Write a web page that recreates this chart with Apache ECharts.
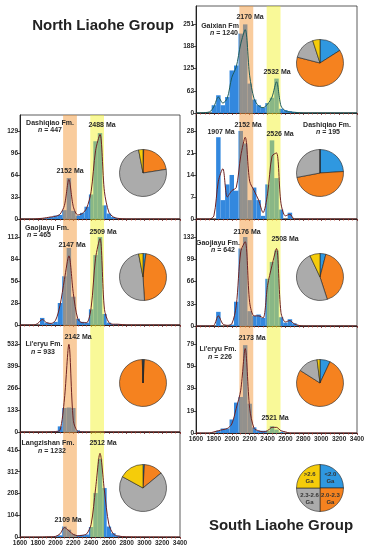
<!DOCTYPE html>
<html><head><meta charset="utf-8">
<script src="https://cdn.jsdelivr.net/npm/echarts@6/dist/echarts.min.js"></script>
<style>html,body{margin:0;padding:0;background:#fff;}#c{width:371px;height:550px;}</style>
</head><body><div id="c"></div>
<script>
// ---------- DATA ----------
const binCenters = [1800,1850,1900,1950,2000,2050,2100,2150,2200,2250,2300,2350,2400,2450,2500,2550,2600,2650,2700,2750];
const binWidth = 50;
const kdeAges = [1600,1750,1800,1850,1900,1950,2000,2050,2100,2150,2200,2250,2300,2350,2400,2450,2500,2550,2600,2650,2700,2800,3400];
const xTickLabels = [1600,1800,2000,2200,2400,2600,2800,3000,3200,3400];
const pieNames = ['<2.0 Ga','2.0-2.3 Ga','2.3-2.6 Ga','>2.6 Ga'];
const legendLabels = ['<2.0\nGa','2.0-2.3\nGa','2.3-2.6\nGa','>2.6\nGa'];
const orangeBand = [2085, 2240];
const yellowBand = [2390, 2545];

const formations = ['Dashiqiao Fm.','Gaojiayu Fm.',"Li'eryu Fm.",'Langzishan Fm.','Gaixian Fm','Dashiqiao Fm.','Gaojiayu Fm.',"Li'eryu Fm."];
const sampleN = [447, 465, 933, 1232, 1240, 195, 642, 226];

// North Liaohe Group
const countsL1 = [0,0,1,3,5,6,13,60,12,5,9,18,36,114,126,20,8,3,1,0];
const countsL2 = [0,9,3,2,4,28,62,98,36,8,4,3,20,89,112,14,3,1,1,0];
const countsL3 = [0,0,0,0,6,34,145,148,145,10,3,0,0,0,0,0,0,0,0,0];
const countsL4 = [0,0,0,0,3,8,50,35,15,8,10,12,48,210,373,234,50,18,6,2];
// South Liaohe Group
const countsR1 = [22,50,22,45,120,134,224,250,83,38,22,15,28,43,97,12,8,5,3,0];
const countsR2 = [0,26,6,11,14,9,28,24,6,10,6,1,11,25,13,3,0,2,0,0];
const countsR3 = [0,21,0,0,2,36,115,132,22,15,17,12,70,95,112,13,5,10,4,0];
const countsR4 = [0,2,4,4,12,27,32,78,26,5,2,2,2,6,3,1,0,0,0,0];

const kdeL1 = [0,0,0.5,1,2,3,4,7,20,58,18,6,8,16,40,100,124,40,10,3,1,0,0];
const kdeL2 = [0,0,2,7,3,2,6,25,58,88,40,8,3,3,22,85,110,20,3,1,1,0,0];
const kdeL3 = [0,0,0,0,0,1,3,10,200,530,70,4,1,0,0,0,0,0,0,0,0,0,0];
const kdeL4 = [0,0,0,0,1,1,3,15,45,30,12,6,8,15,60,230,400,220,60,15,5,1,0];
const kdeR1 = [0,3,18,45,28,42,100,130,195,235,105,40,20,15,25,45,88,20,6,3,2,0,0];
const kdeR2 = [0,0,1,12,16,7,9,10,20,26,12,9,6,2,8,20,21,5,1,1.5,0,0,0];
const kdeR3 = [0,0,1,15,3,1,3,30,110,125,35,15,15,12,60,90,115,20,6,8,3,0,0];
const kdeR4 = [0,0,1,2,3,4,8,22,38,75,22,4,2,1,2,5,5,2,1,0,0,0,0];

const yTicksL1 = [0,32.25,64.5,96.75,129];
const yTicksL2 = [0,28,56,84,112];
const yTicksL3 = [0,133,266,399,532];
const yTicksL4 = [0,104,208,312,416];
const yTicksR1 = [0,62.75,125.5,188.25,251];
const yTicksR2 = [0,7,14,21,28];
const yTicksR3 = [0,33,66,99,132];
const yTicksR4 = [0,19.75,39.5,59.25,79];

const peaksL1 = [2152, 2488];
const peaksL2 = [2147, 2509];
const peaksL3 = [2142];
const peaksL4 = [2109, 2512];
const peaksR1 = [2170, 2532];
const peaksR2 = [1907, 2152, 2526];
const peaksR3 = [2176, 2508];
const peaksR4 = [2173, 2521];

// pie shares: <2.0, 2.0-2.3, 2.3-2.6, >2.6 Ga
const pieL1 = [0.5,22,74.5,3];
const pieL2 = [2,47,48,3];
const pieL3 = [1,98.5,0.5,0];
const pieL4 = [1,13,69,17];
const pieR1 = [16,63,16,5];
const pieR2 = [24,48,28,0];
const pieR3 = [4,41,48,7];
const pieR4 = [7,77,14,2];

// ---------- LAYOUT / STYLE ----------
const FONT = 'Liberation Sans, Arial, sans-serif';
const pieColors = ['#2f98e0','#f5821f','#ababab','#f5cc0a'];
const bandColors = ['#f39a3c','#f2f21a'];
const bandOpacity = [0.5, 0.45];
const panels = [
  {grid:{left:20,top:115,width:160,height:104}, yMax:152.5, counts:countsL1, kde:kdeL1, yt:yTicksL1, pie:pieL1, pc:[143,173], peaks:peaksL1, pk:[[70,171],[102,125]], nm:[50,123], nn:[50,130.5], bottom:false, lc:'#6e2222'},
  {grid:{left:20,top:219,width:160,height:106}, yMax:134.9, counts:countsL2, kde:kdeL2, yt:yTicksL2, pie:pieL2, pc:[143,277], peaks:peaksL2, pk:[[72,245],[103,232]], nm:[47,228], nn:[39,235.5], bottom:false, lc:'#6e2222'},
  {grid:{left:20,top:325,width:160,height:107}, yMax:646.8, counts:countsL3, kde:kdeL3, yt:yTicksL3, pie:pieL3, pc:[143,383], peaks:peaksL3, pk:[[78,337]], nm:[44,344.5], nn:[43,352.5], bottom:false, lc:'#6e2222'},
  {grid:{left:20,top:432,width:160,height:105}, yMax:502, counts:countsL4, kde:kdeL4, yt:yTicksL4, pie:pieL4, pc:[143,488], peaks:peaksL4, pk:[[68,520],[103,443]], nm:[48,443.5], nn:[52,451], bottom:true, lc:'#6e2222'},
  {grid:{left:196,top:6,width:161,height:107}, yMax:301.8, counts:countsR1, kde:kdeR1, yt:yTicksR1, pie:pieR1, pc:[320,63], peaks:peaksR1, pk:[[250,17],[277,72]], nm:[220,26], nn:[224,33.5], bottom:false, lc:'#1d5b5b'},
  {grid:{left:196,top:113,width:161,height:106}, yMax:33.7, counts:countsR2, kde:kdeR2, yt:yTicksR2, pie:pieR2, pc:[320,173], peaks:peaksR2, pk:[[221,132],[248,125],[280,134]], nm:[327,125], nn:[328,132.5], bottom:false, lc:'#6e2222'},
  {grid:{left:196,top:219,width:161,height:107}, yMax:158.7, counts:countsR3, kde:kdeR3, yt:yTicksR3, pie:pieR3, pc:[320,277], peaks:peaksR3, pk:[[247,232],[285,239]], nm:[218,243], nn:[223,250.5], bottom:false, lc:'#6e2222'},
  {grid:{left:196,top:326,width:161,height:107}, yMax:95, counts:countsR4, kde:kdeR4, yt:yTicksR4, pie:pieR4, pc:[320,383], peaks:peaksR4, pk:[[252,338],[275,418]], nm:[218,349.5], nn:[220,357], bottom:true, lc:'#6e2222'}
];

const grid = [], xAxis = [], yAxis = [], series = [], graphic = [];
const TXT = '#2a2a2a';

function tickLabel(v, ticks) {
  let best = ticks[0];
  ticks.forEach(t => { if (Math.abs(t - v) < Math.abs(best - v)) best = t; });
  return String(Math.floor(best + 1e-9));
}

panels.forEach((p, i) => {
  grid.push(Object.assign({show:true, borderColor:'#333', borderWidth:0.8, backgroundColor:'transparent'}, p.grid));
  xAxis.push({
    type:'value', gridIndex:i, min:1600, max:3400, interval:200,
    axisLine:{show:true, lineStyle:{color:'#222', width:1}},
    axisTick:{show:true, length:2, lineStyle:{color:'#7a1f1f', width:0.8}},
    minorTick:{show:true, splitNumber:4, length:1.5, lineStyle:{color:'#c0392b', width:0.8}},
    splitLine:{show:false}, minorSplitLine:{show:false},
    axisLabel:{show:p.bottom, fontSize:6.5, fontWeight:'bold', color:TXT, fontFamily:FONT, margin:3,
      customValues: xTickLabels, formatter: v => String(Math.round(v))}
  });
  yAxis.push({
    type:'value', gridIndex:i, min:0, max:p.yMax,
    axisLine:{show:true, lineStyle:{color:'#222', width:1}},
    axisTick:{show:true, length:3, customValues:p.yt, lineStyle:{color:'#222', width:0.8}},
    splitLine:{show:false},
    axisLabel:{show:true, customValues:p.yt, formatter: v => tickLabel(v, p.yt),
      fontSize:6.5, fontWeight:'bold', color:TXT, fontFamily:FONT, margin:2}
  });
  // histogram
  series.push({
    type:'custom', xAxisIndex:i, yAxisIndex:i, z:2, silent:true,
    encode:{x:[0,1], y:2},
    data: binCenters.map((c, k) => [c - binWidth/2, c + binWidth/2, p.counts[k]]),
    renderItem: (params, api) => {
      const a = api.coord([api.value(0), api.value(2)]);
      const b = api.coord([api.value(1), 0]);
      return {type:'rect', shape:{x:a[0], y:a[1], width:b[0]-a[0], height:b[1]-a[1]},
        style:{fill:'#3388de'}};
    }
  });
  // age bands
  series.push({
    type:'custom', xAxisIndex:i, yAxisIndex:i, z:3, silent:true,
    encode:{x:[0,1]},
    data: [[orangeBand[0], orangeBand[1], 0], [yellowBand[0], yellowBand[1], 1]],
    renderItem: (params, api) => {
      const a = api.coord([api.value(0), 0]);
      const b = api.coord([api.value(1), 0]);
      const cs = params.coordSys;
      const k = api.value(2);
      return {type:'rect', shape:{x:a[0], y:cs.y, width:b[0]-a[0], height:cs.height},
        style:{fill:bandColors[k], opacity:bandOpacity[k]}};
    }
  });
  // KDE curve
  series.push({
    type:'line', xAxisIndex:i, yAxisIndex:i, z:4, silent:true, smooth:0.3,
    showSymbol:false, symbol:'none',
    lineStyle:{color:p.lc, width:1},
    data: kdeAges.map((a, k) => [a, p.kde[k]])
  });
  // pie
  series.push({
    type:'pie', center:p.pc, radius:23.5, startAngle:90, clockwise:true, silent:true, z:5,
    label:{show:false}, labelLine:{show:false},
    itemStyle:{borderColor:'#222', borderWidth:0.6},
    data: p.pie.map((v, k) => ({name:pieNames[k], value:v, itemStyle:{color:pieColors[k]}}))
  });
  // texts
  graphic.push({type:'text', z:10, style:{text:formations[i], x:p.nm[0], y:p.nm[1], align:'center', verticalAlign:'middle',
    fontSize:7, fontWeight:'bold', fontFamily:FONT, fill:TXT}});
  graphic.push({type:'text', z:10, style:{text:'{i|n} = ' + sampleN[i], x:p.nn[0], y:p.nn[1], align:'center', verticalAlign:'middle',
    fontSize:7, fontWeight:'bold', fontFamily:FONT, fill:TXT, rich:{i:{fontStyle:'italic', fontWeight:'bold', fontSize:7, fontFamily:FONT, fill:TXT}}}});
  p.peaks.forEach((age, k) => {
    graphic.push({type:'text', z:10, style:{text: age + ' Ma', x:p.pk[k][0], y:p.pk[k][1], align:'center', verticalAlign:'middle',
      fontSize:7, fontWeight:'bold', fontFamily:FONT, fill:TXT}});
  });
});

// legend pie
series.push({
  type:'pie', center:[320,488], radius:23.5, startAngle:90, clockwise:true, silent:true, z:5,
  label:{show:true, position:'inside', formatter: (prm) => legendLabels[prm.dataIndex], fontSize:6, fontWeight:'bold',
    fontFamily:FONT, color:'#333', lineHeight:7},
  labelLine:{show:false},
  itemStyle:{borderColor:'#222', borderWidth:0.6},
  data: pieNames.map((n, k) => ({name:n, value:1, itemStyle:{color:pieColors[k]}}))
});

graphic.push({type:'text', style:{text:'North Liaohe Group', x:103, y:26, align:'center', verticalAlign:'middle',
  fontSize:15, fontWeight:'bold', fontFamily:FONT, fill:'#222'}});
graphic.push({type:'text', style:{text:'South Liaohe Group', x:281, y:526, align:'center', verticalAlign:'middle',
  fontSize:15, fontWeight:'bold', fontFamily:FONT, fill:'#222'}});

const chart = echarts.init(document.getElementById('c'), null, {renderer:'canvas', width:371, height:550});
chart.setOption({animation:false, backgroundColor:'#fff', grid, xAxis, yAxis, series, graphic});
</script></body></html>
